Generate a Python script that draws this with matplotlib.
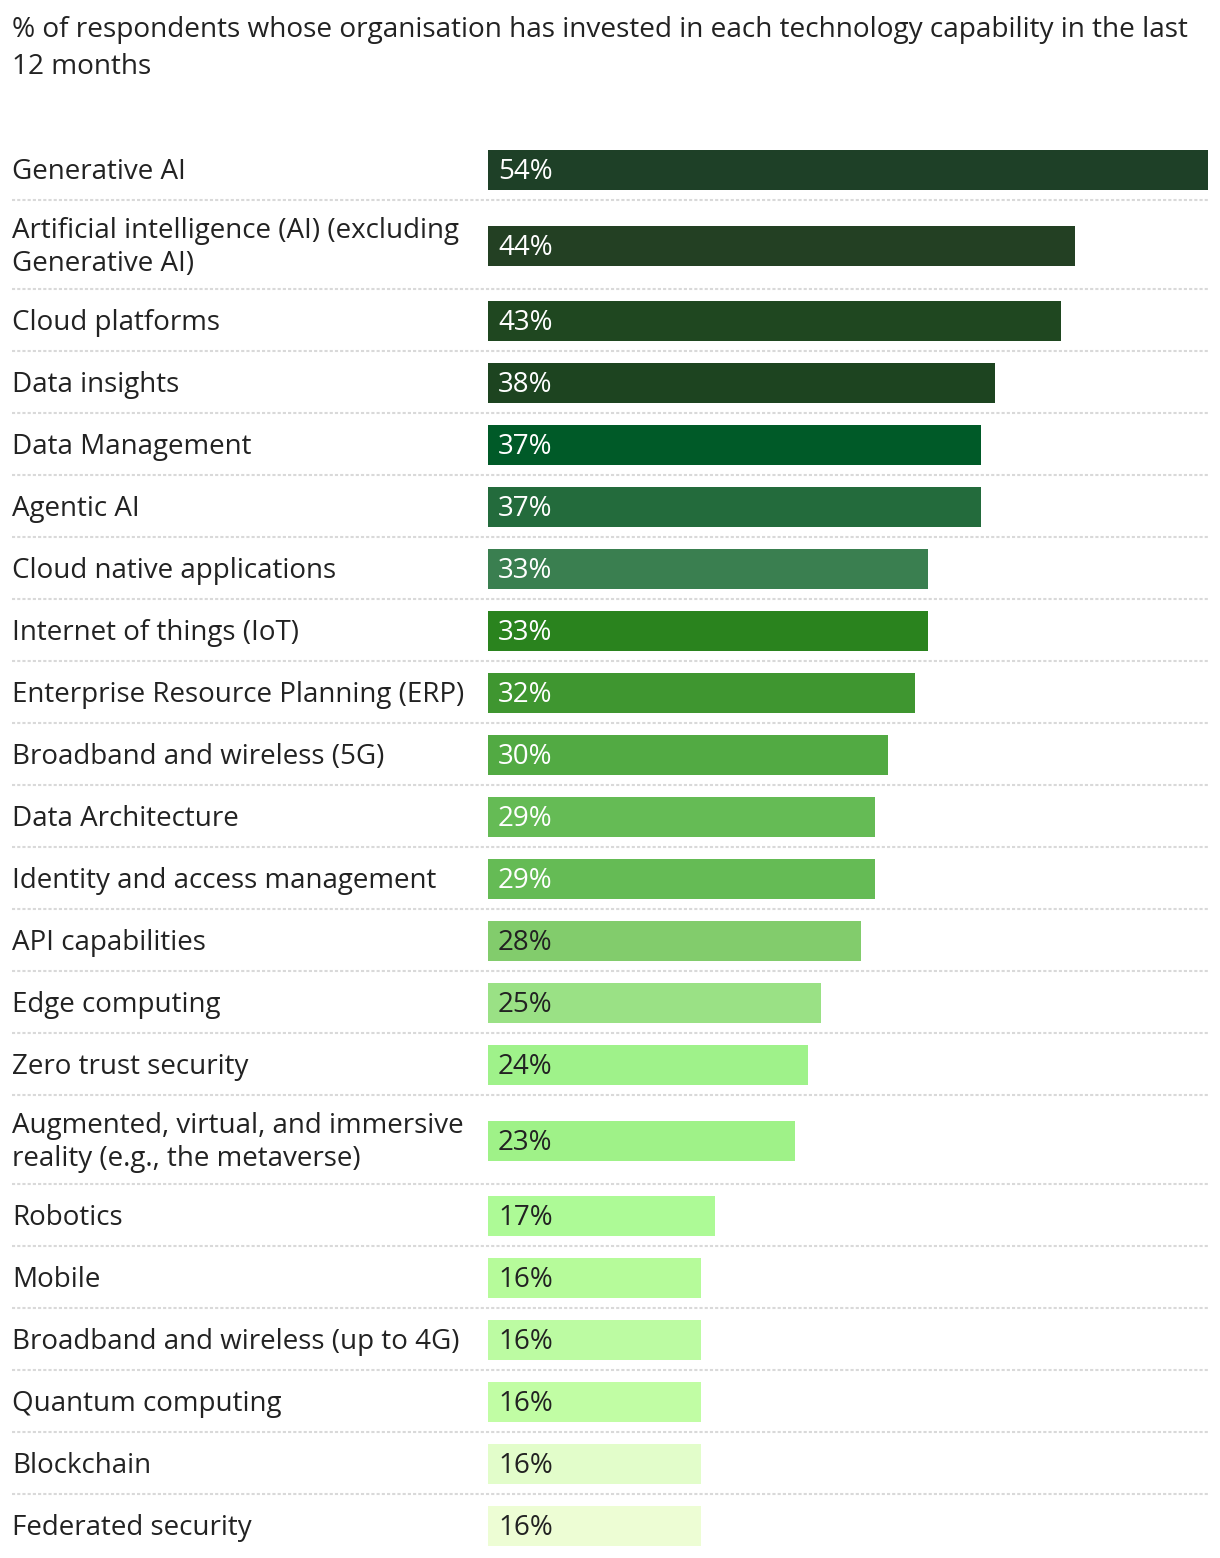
import matplotlib
matplotlib.use('Agg')
import matplotlib.pyplot as plt

plt.rcParams['font.family'] = ['Open Sans', 'DejaVu Sans']

TITLE = '% of respondents whose organisation has invested in each technology capability in the last\n12 months'

categories = [
    'Generative AI',
    'Artificial intelligence (AI) (excluding\nGenerative AI)',
    'Cloud platforms',
    'Data insights',
    'Data Management',
    'Agentic AI',
    'Cloud native applications',
    'Internet of things (IoT)',
    'Enterprise Resource Planning (ERP)',
    'Broadband and wireless (5G)',
    'Data Architecture',
    'Identity and access management',
    'API capabilities',
    'Edge computing',
    'Zero trust security',
    'Augmented, virtual, and immersive\nreality (e.g., the metaverse)',
    'Robotics',
    'Mobile',
    'Broadband and wireless (up to 4G)',
    'Quantum computing',
    'Blockchain',
    'Federated security',
]
values = [54, 44, 43, 38, 37, 37, 33, 33, 32, 30, 29, 29, 28, 25, 24, 23, 17, 16, 16, 16, 16, 16]
colors = ['#1e4027', '#234023', '#1f4720', '#1d4420', '#005a28', '#236b3c', '#3a7f50',
          '#2a831e', '#3f9630', '#52aa43', '#65bb55', '#65bb55', '#82cc6c', '#9ae185',
          '#9ff28a', '#9ff288', '#adfa96', '#b6fb9a', '#bcfba2', '#c1fda4', '#e2fdca', '#edfdd4']

W, H = 1220, 1558
X0, X1 = 488, 1208          # pixel span of the bar area
scale = (X1 - X0) / max(values)

def px(p):
    return (p - X0) / scale

fig = plt.figure(figsize=(W / 100, H / 100), dpi=100)
ax = fig.add_axes([0, 0, 1, 1])
ax.set_xlim(px(0), px(W))
ax.set_ylim(H, 0)
ax.axis('off')

text_col = '#222222'
ax.text(px(12), 16, TITLE, fontsize=20.2, color=text_col, va='top', ha='left', linespacing=1.42)

top = 138
for cat, val, col in zip(categories, values, colors):
    lines = cat.count('\n') + 1
    h = 62 + 27 * (lines - 1)
    yc = top + (h + 2) / 2
    ax.barh(yc, val, height=40, color=col, left=0)
    ax.text(px(12), yc + 2, cat, fontsize=20, color=text_col, va='center', ha='left', linespacing=1.2)
    lum = int(col[1:3], 16) * 0.299 + int(col[3:5], 16) * 0.587 + int(col[5:7], 16) * 0.114
    ax.text(px(498), yc + 2, f'{val}%', fontsize=20, color='white' if lum < 160 else text_col,
            va='center', ha='left')
    top += h
    if cat != categories[-1]:
        ax.plot([px(12), px(1208)], [top, top], color='#d9d9d9', lw=1.5,
                linestyle=(0, (1.5, 1)), solid_capstyle='butt')

fig.savefig('out.png', dpi=100)
